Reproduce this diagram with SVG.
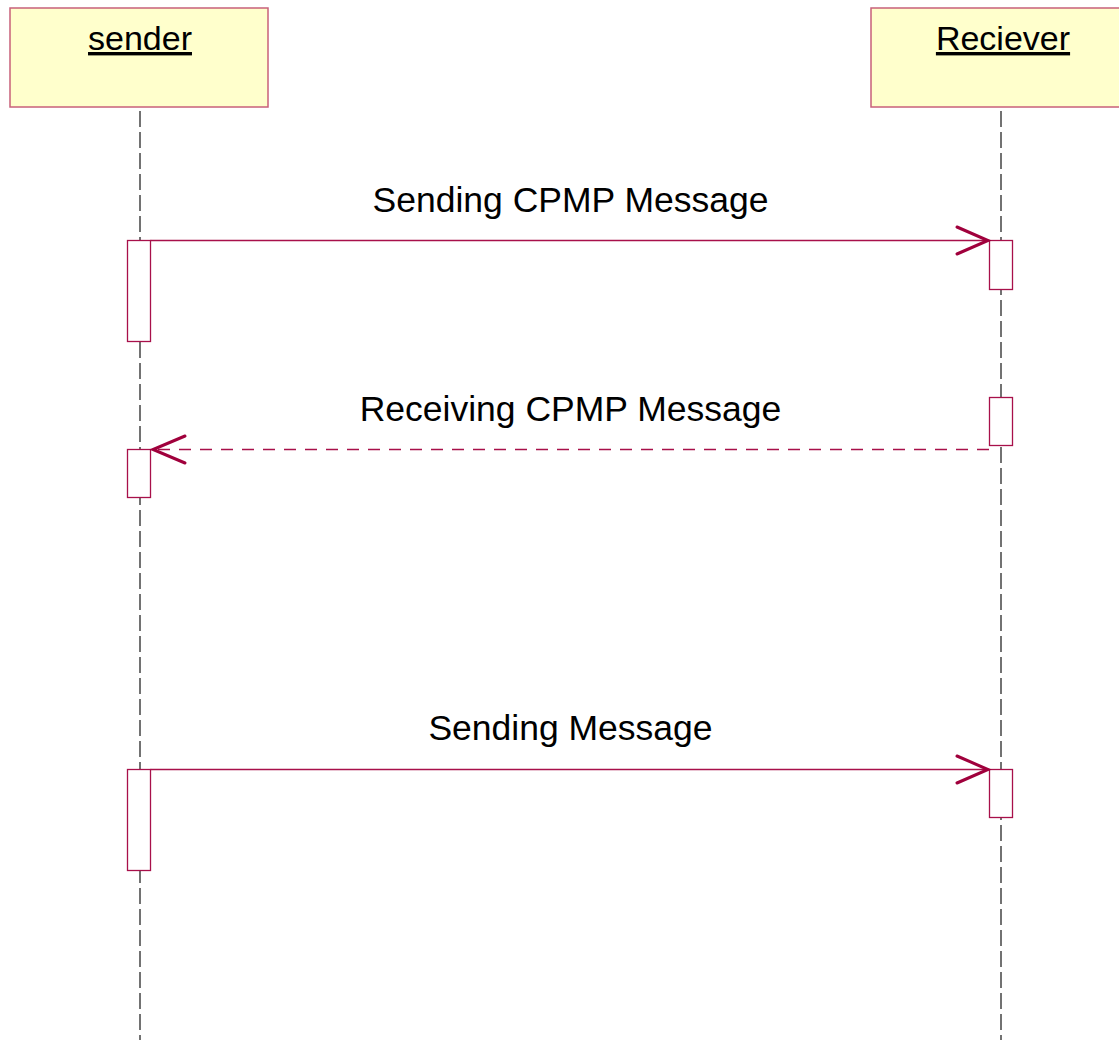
<svg xmlns="http://www.w3.org/2000/svg" width="1119" height="1040" viewBox="0 0 1119 1040">
<style>
.head{fill:#ffffcc;stroke:#c8607a;stroke-width:1.5}
.htxt{font-family:"Liberation Sans",Arial,sans-serif;font-size:34px;fill:#000;text-anchor:middle;text-decoration:underline}
.life{stroke:#444;stroke-width:1.5;stroke-dasharray:16 5;fill:none}
.act{fill:#fff;stroke:#a8104a;stroke-width:1.3}
.msg{stroke:#a8104a;stroke-width:1.3;fill:none}
.dash{stroke-dasharray:12 9}
.head2{stroke:#a0003c;stroke-width:3;fill:none;stroke-linecap:round;stroke-linejoin:miter}
.mtxt{font-family:"Liberation Sans",Arial,sans-serif;font-size:35.5px;fill:#000;text-anchor:middle}
</style>
<rect width="1119" height="1040" fill="#fff"/>
<g id="lifelines">
<line class="life" x1="140" y1="111" x2="140" y2="1040"/>
<line class="life" x1="1001" y1="111" x2="1001" y2="1040"/>
</g>
<g id="sender">
<rect class="head" x="10" y="8" width="258" height="99"/>
<text class="htxt" x="140" y="50">sender</text>
</g>
<g id="receiver">
<rect class="head" x="871" y="8" width="260" height="99"/>
<text class="htxt" x="1003" y="50">Reciever</text>
</g>
<g id="activations">
<rect class="act" x="127.5" y="240.5" width="23" height="101"/>
<rect class="act" x="989.5" y="240.5" width="23" height="49"/>
<rect class="act" x="989.5" y="397.5" width="23" height="48"/>
<rect class="act" x="127.5" y="449.5" width="23" height="48"/>
<rect class="act" x="127.5" y="769.5" width="23" height="101"/>
<rect class="act" x="989.5" y="769.5" width="23" height="48"/>
</g>
<g id="connectors">
<g id="m1">
<line class="msg" x1="150.5" y1="240.5" x2="989" y2="240.5"/>
<polyline class="head2" points="957,227 988,240.5 957,254"/>
<text class="mtxt" x="570.5" y="212">Sending CPMP Message</text>
</g>
<g id="m2">
<line class="msg dash" x1="989" y1="449.5" x2="152" y2="449.5"/>
<polyline class="head2" points="185,436 153,449.5 185,463"/>
<text class="mtxt" x="570.5" y="421">Receiving CPMP Message</text>
</g>
<g id="m3">
<line class="msg" x1="150.5" y1="769.5" x2="989" y2="769.5"/>
<polyline class="head2" points="957,756 988,769.5 957,783"/>
<text class="mtxt" x="570.5" y="740">Sending Message</text>
</g>
</g>
</svg>
